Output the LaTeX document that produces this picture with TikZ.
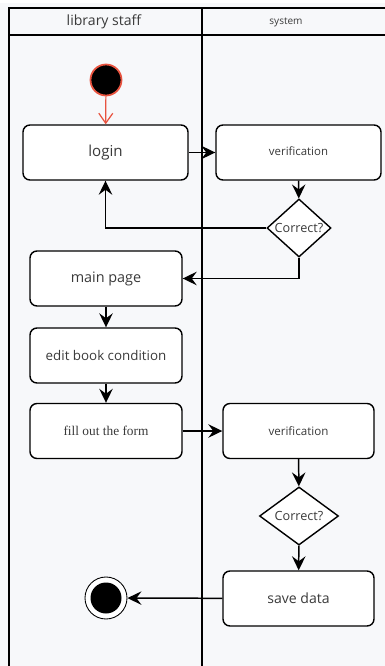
\documentclass[tikz,border=0pt]{standalone}
\usepackage{fontspec}
\setsansfont{Open Sans}
\newfontfamily\formfont{Liberation Serif}
\usetikzlibrary{arrows.meta,shapes.geometric}
\definecolor{bgcol}{HTML}{F7F8FA}
\definecolor{txtcol}{HTML}{3A3A3A}
\definecolor{startred}{HTML}{E8533F}
\begin{document}
\begin{tikzpicture}
[x=0.2mm, y=-0.2mm, line width=0.8pt, font=\sffamily, text=txtcol,
activity/.style={rectangle, rounded corners=1.4mm, draw, fill=white, inner sep=0pt, minimum width=33mm, minimum height=11mm},
smallact/.style={activity, minimum width=30.4mm},
decision/.style={diamond, draw, fill=white, inner sep=0pt, font=\sffamily\fontsize{7.2}{8}\selectfont},
flow/.style={-{Stealth[length=2.8mm, width=2.7mm, inset=1mm]}, line width=0.85pt}]

\fill[white] (0,0) rectangle (385,666);
\fill[bgcol] (0,3) rectangle (385,666);
\useasboundingbox (0,0) rectangle (385,666);

\draw (9,666) -- (9,8) -- (385,8);
\draw (9,35) -- (385,35);
\draw (202,8) -- (202,666);

\node (lane1) at (104,22) {\fontsize{8}{9}\selectfont library staff};
\node (lane2) at (286,22) {\fontsize{5.7}{6.5}\selectfont system};

\node[circle, draw=startred, line width=1pt, fill=black, inner sep=0pt, minimum size=6.2mm] (start) at (106,80) {};

\node[activity] (login) at (105.5,152.5) {\fontsize{8.6}{10}\selectfont login};
\node[activity] (verify1) at (298.5,152.5) {\raisebox{1.5pt}{\fontsize{6.5}{8}\selectfont verification}};
\node[decision, minimum width=12.8mm, minimum height=11.6mm] (check1) at (299,228) {Correct?};
\node[smallact] (mainpage) at (106,278.5) {\fontsize{8.2}{9}\selectfont main page};
\node[smallact] (editbook) at (106,355.5) {\fontsize{7.6}{9}\selectfont edit book condition};
\node[smallact] (fillform) at (106,431) {\formfont\fontsize{7.6}{9}\selectfont fill out the form};
\node[smallact, minimum width=30.2mm] (verify2) at (298.5,431) {\fontsize{6.6}{8}\selectfont verification};
\node[decision, minimum width=15.8mm, minimum height=10.4mm] (check2) at (299,516) {Correct?};
\node[smallact, minimum width=30.2mm] (savedata) at (298.5,598.5) {\fontsize{8}{9}\selectfont save data};

\node[circle, draw, fill=white, line width=0.5pt, inner sep=0pt, minimum size=8.4mm] (stop) at (106,598) {};
\node[circle, fill=black, inner sep=0pt, minimum size=6.2mm] (stopdot) at (106,598) {};

\draw[startred, -{Straight Barb[length=2mm, width=2.8mm]}, line width=0.7pt] (start) -- (login);
\draw[flow] (login) -- (verify1);
\draw[flow] (verify1) -- (check1);
\draw[flow] (check1) -| (login);
\draw[flow] (check1) |- (mainpage);
\draw[flow] (mainpage) -- (editbook);
\draw[flow] (editbook) -- (fillform);
\draw[flow] (fillform) -- (verify2);
\draw[flow] (verify2) -- (check2);
\draw[flow] (check2) -- (savedata);
\draw[flow] (savedata) -- (stop);
\end{tikzpicture}
\end{document}
